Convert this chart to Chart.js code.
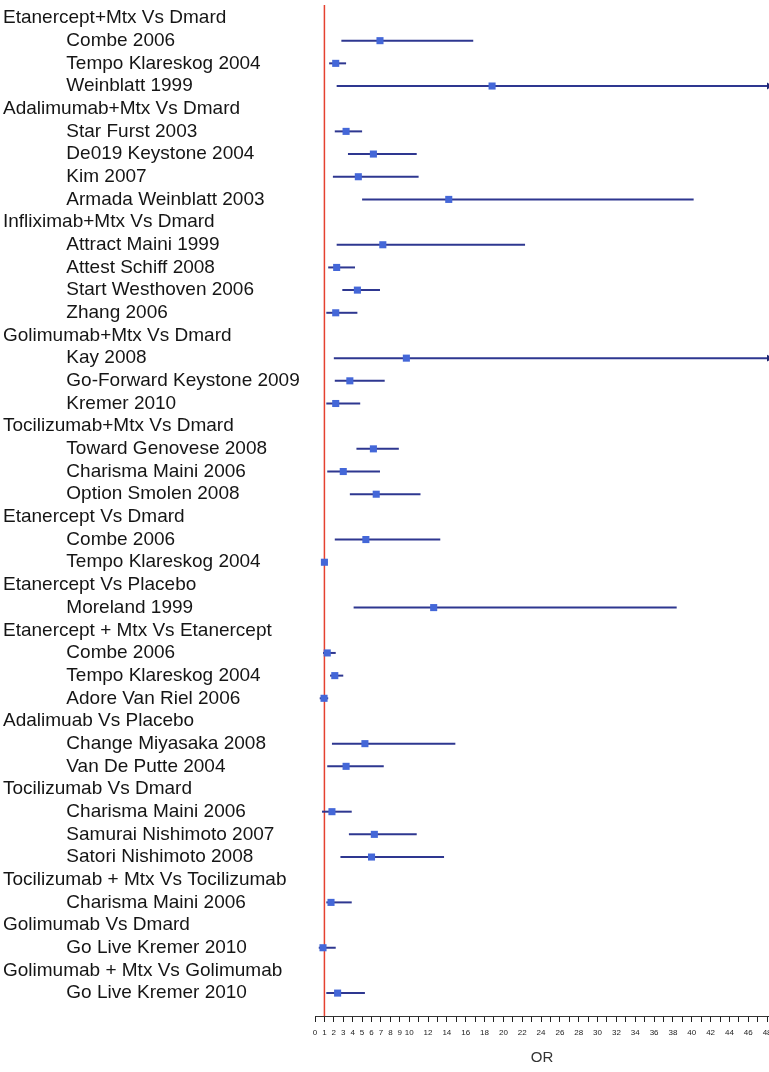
<!DOCTYPE html>
<html>
<head>
<meta charset="utf-8">
<title>Forest plot – OR</title>
<script src="https://cdn.jsdelivr.net/npm/chart.js@4/dist/chart.umd.min.js"></script>
<style>
  html, body { margin: 0; padding: 0; background: #ffffff; overflow: hidden; }
  #wrap { position: relative; width: 769px; height: 1072px; }
  #forest { display: block; }
</style>
</head>
<body>
<div id="wrap"><canvas id="forest" width="769" height="1072"></canvas></div>
<script>
// Rows from top to bottom: comparison headers (no estimate) followed by their studies.
const rowLabels = [
  "Etanercept+Mtx Vs Dmard",
  "Combe 2006", "Tempo Klareskog 2004", "Weinblatt 1999",
  "Adalimumab+Mtx Vs Dmard",
  "Star Furst 2003", "De019 Keystone 2004", "Kim 2007", "Armada Weinblatt 2003",
  "Infliximab+Mtx Vs Dmard",
  "Attract Maini 1999", "Attest Schiff 2008", "Start Westhoven 2006", "Zhang 2006",
  "Golimumab+Mtx Vs Dmard",
  "Kay 2008", "Go-Forward Keystone 2009", "Kremer 2010",
  "Tocilizumab+Mtx Vs Dmard",
  "Toward Genovese 2008", "Charisma Maini 2006", "Option Smolen 2008",
  "Etanercept Vs Dmard",
  "Combe 2006", "Tempo Klareskog 2004",
  "Etanercept Vs Placebo",
  "Moreland 1999",
  "Etanercept + Mtx Vs Etanercept",
  "Combe 2006", "Tempo Klareskog 2004", "Adore Van Riel 2006",
  "Adalimuab Vs Placebo",
  "Change Miyasaka 2008", "Van De Putte 2004",
  "Tocilizumab Vs Dmard",
  "Charisma Maini 2006", "Samurai Nishimoto 2007", "Satori Nishimoto 2008",
  "Tocilizumab + Mtx Vs Tocilizumab",
  "Charisma Maini 2006",
  "Golimumab Vs Dmard",
  "Go Live Kremer 2010",
  "Golimumab + Mtx Vs Golimumab",
  "Go Live Kremer 2010"
];

// Odds ratio point estimates (null = comparison header row)
const oddsRatio = [
  null, 6.9, 2.2, 18.8,
  null, 3.3, 6.2, 4.6, 14.2,
  null, 7.2, 2.3, 4.5, 2.2,
  null, 9.7, 3.7, 2.2,
  null, 6.2, 3.0, 6.5,
  null, 5.4, 1.0,
  null, 12.6,
  null, 1.3, 2.1, 0.96,
  null, 5.3, 3.3,
  null, 1.8, 6.3, 6.0,
  null, 1.7,
  null, 0.85,
  null, 2.4
];

// Lower 95% confidence limits
const ciLower = [
  null, 2.8, 1.5, 2.3,
  null, 2.1, 3.5, 1.9, 5.0,
  null, 2.3, 1.4, 2.9, 1.2,
  null, 2.0, 2.1, 1.2,
  null, 4.4, 1.3, 3.7,
  null, 2.1, 0.7,
  null, 4.1,
  null, 0.85, 1.6, 0.5,
  null, 1.8, 1.3,
  null, 0.74, 3.6, 2.7,
  null, 1.2,
  null, 0.4,
  null, 1.2
];

// Upper 95% confidence limits (values past the axis end run off the right edge)
const ciUpper = [
  null, 16.8, 3.3, 55,
  null, 5.0, 10.8, 11.0, 40.2,
  null, 22.3, 4.25, 6.9, 4.5,
  null, 55, 7.4, 4.8,
  null, 8.9, 6.9, 11.2,
  null, 13.3, 1.3,
  null, 38.4,
  null, 2.2, 3.0, 1.4,
  null, 14.9, 7.3,
  null, 3.9, 10.8, 13.7,
  null, 3.9,
  null, 2.2,
  null, 5.3
];

// Reference line: OR = 1 (no effect)
const nullEffect = 1;

// Axis ranges
const orMin = 0, orMax = 48.2;
const rowMin = -0.573, rowMax = 44.01;

const indent = "            ";
const FONT = 'Arial, "Liberation Sans", sans-serif';

const estimatePoints = [];
const truncatedEnds = [];
const datasets = [];
rowLabels.forEach((_, i) => {
  if (oddsRatio[i] === null) return;
  estimatePoints.push({ x: oddsRatio[i], y: i });
  if (ciUpper[i] > orMax) truncatedEnds.push({ x: orMax, y: i });
});

// Point estimates (drawn on top)
datasets.push({
  type: 'scatter',
  data: estimatePoints,
  pointStyle: 'rect',
  pointRadius: 5,
  backgroundColor: '#4467d8',
  borderColor: '#4467d8',
  borderWidth: 0
});

// Arrow tips where an interval continues past the axis end
datasets.push({
  type: 'scatter',
  data: truncatedEnds,
  pointStyle: 'triangle',
  rotation: 90,
  pointRadius: 4,
  backgroundColor: '#1f2670',
  borderColor: '#1f2670',
  borderWidth: 0
});

// Confidence interval bars
rowLabels.forEach((_, i) => {
  if (oddsRatio[i] === null) return;
  datasets.push({
    type: 'line',
    data: [{ x: ciLower[i], y: i }, { x: ciUpper[i], y: i }],
    borderColor: '#2e3790',
    borderWidth: 2,
    pointRadius: 0,
    fill: false
  });
});

// Vertical no-effect line
datasets.push({
  type: 'line',
  data: [{ x: nullEffect, y: rowMin }, { x: nullEffect, y: rowMax }],
  borderColor: '#e5412f',
  borderWidth: 1.5,
  pointRadius: 0,
  fill: false
});

new Chart(document.getElementById('forest'), {
  type: 'scatter',
  data: { datasets },
  options: {
    responsive: false,
    animation: false,
    events: [],
    devicePixelRatio: 1,
    layout: { autoPadding: false, padding: { top: 5, left: 3, right: 0, bottom: 0 } },
    plugins: { legend: { display: false }, tooltip: { enabled: false } },
    scales: {
      x: {
        type: 'linear',
        position: 'bottom',
        min: orMin,
        max: orMax,
        afterFit: (s) => { s.height = 56; s.paddingLeft = 0; s.paddingRight = 0; },
        border: { display: true, color: '#333333', width: 1 },
        grid: { display: true, drawOnChartArea: false, drawTicks: true, tickLength: 6, color: '#222222' },
        ticks: {
          stepSize: 1,
          includeBounds: false,
          autoSkip: false,
          maxRotation: 0,
          padding: 6,
          color: '#222222',
          font: { family: FONT, size: 8 },
          callback: (v) => (v <= 10 || v % 2 === 0) ? String(v) : ''
        },
        title: {
          display: true,
          text: 'OR',
          color: '#333333',
          font: { family: FONT, size: 15 },
          padding: { top: 0, bottom: 5 }
        }
      },
      y: {
        type: 'linear',
        position: 'left',
        reverse: true,
        min: rowMin,
        max: rowMax,
        afterFit: (s) => { s.width = 312; s.paddingTop = 0; s.paddingBottom = 0; },
        border: { display: false },
        grid: { display: false },
        ticks: {
          stepSize: 1,
          includeBounds: false,
          autoSkip: false,
          crossAlign: 'far',
          padding: 0,
          color: '#151515',
          font: { family: FONT, size: 19 },
          callback: (v) => {
            if (!Number.isInteger(v) || v < 0 || v >= rowLabels.length) return '';
            return oddsRatio[v] === null ? rowLabels[v] : indent + rowLabels[v];
          }
        }
      }
    }
  }
});
</script>
</body>
</html>
